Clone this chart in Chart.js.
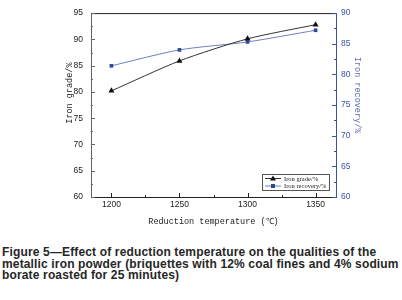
<!DOCTYPE html>
<html>
<head>
<meta charset="utf-8">
<script src="https://cdn.jsdelivr.net/npm/chart.js@4.4.0/dist/chart.umd.min.js"></script>
<style>
  html, body { margin: 0; padding: 0; background: #fff; }
  body { width: 402px; height: 300px; overflow: hidden; position: relative; }
  #wrap { position: absolute; left: 0; top: 0; width: 402px; height: 232px; }
  #caption {
    position: absolute; left: 2px; top: 247px;
    font-family: "Liberation Sans", Arial, sans-serif;
    font-weight: bold; font-size: 12px; line-height: 11.7px; color: #262626;
    letter-spacing: 0.15px; white-space: nowrap;
  }
</style>
</head>
<body>
<div id="wrap"><canvas id="chart"></canvas></div>
<div id="caption">Figure 5—Effect of reduction temperature on the qualities of the<br>metallic iron powder (briquettes with 12% coal fines and 4% sodium<br>borate roasted for 25 minutes)</div>
<script>
const temps = [1200, 1250, 1300, 1350];
const ironGrade = [80.2, 85.9, 90.1, 92.8];
const ironRecovery = [81.4, 84.0, 85.3, 87.2];
const xTicks = [1200, 1250, 1300, 1350];
const gradeTicks = [60, 65, 70, 75, 80, 85, 90, 95];
const recoveryTicks = [60, 65, 70, 75, 80, 85, 90];
const xTitle = 'Reduction temperature (℃)';
const gradeTitle = 'Iron grade/%';
const recoveryTitle = 'Iron recovery/%';

const BLUE = '#3a52a3';
const MONO = '"Liberation Mono", "DejaVu Sans Mono", monospace';
const TICKFONT = { family: '"Liberation Sans", Arial, sans-serif', size: 8.5 };

// inward ticks, frame, axis titles and legend, all placed from the scales
const framePlugin = {
    id: 'frame',
    afterDraw(chart) {
        const ctx = chart.ctx;
        const a = chart.chartArea;
        const { x, y, y1 } = chart.scales;
        ctx.save();
        ctx.lineWidth = 1;

        // top + bottom
        ctx.strokeStyle = '#222';
        ctx.beginPath(); ctx.moveTo(a.left, a.top + 0.5); ctx.lineTo(a.right, a.top + 0.5); ctx.stroke();
        ctx.beginPath(); ctx.moveTo(a.left, a.bottom + 0.5); ctx.lineTo(a.right, a.bottom + 0.5); ctx.stroke();
        xTicks.forEach((v, i) => {
            const px = Math.round(x.getPixelForValue(v)) + 0.5;
            ctx.beginPath(); ctx.moveTo(px, a.bottom); ctx.lineTo(px, a.bottom - 4); ctx.stroke();
            if (i < xTicks.length - 1) {
                const mx = Math.round(x.getPixelForValue((v + xTicks[i + 1]) / 2)) + 0.5;
                ctx.beginPath(); ctx.moveTo(mx, a.bottom); ctx.lineTo(mx, a.bottom - 2); ctx.stroke();
            }
        });

        // left axis
        ctx.strokeStyle = '#666';
        ctx.beginPath(); ctx.moveTo(a.left + 0.5, a.top); ctx.lineTo(a.left + 0.5, a.bottom); ctx.stroke();
        gradeTicks.forEach((v, i) => {
            const py = Math.round(y.getPixelForValue(v)) + 0.5;
            ctx.beginPath(); ctx.moveTo(a.left, py); ctx.lineTo(a.left + 4, py); ctx.stroke();
            if (i < gradeTicks.length - 1) {
                const my = Math.round(y.getPixelForValue((v + gradeTicks[i + 1]) / 2)) + 0.5;
                ctx.beginPath(); ctx.moveTo(a.left, my); ctx.lineTo(a.left + 2, my); ctx.stroke();
            }
        });

        // right axis
        ctx.strokeStyle = BLUE;
        ctx.beginPath(); ctx.moveTo(a.right + 0.5, a.top); ctx.lineTo(a.right + 0.5, a.bottom + 1); ctx.stroke();
        recoveryTicks.forEach((v, i) => {
            const py = Math.round(y1.getPixelForValue(v)) + 0.5;
            ctx.beginPath(); ctx.moveTo(a.right, py); ctx.lineTo(a.right - 4, py); ctx.stroke();
            if (i < recoveryTicks.length - 1) {
                const my = Math.round(y1.getPixelForValue((v + recoveryTicks[i + 1]) / 2)) + 0.5;
                ctx.beginPath(); ctx.moveTo(a.right, my); ctx.lineTo(a.right - 2, my); ctx.stroke();
            }
        });

        // axis titles
        ctx.font = '8.5px ' + MONO;
        ctx.textAlign = 'center';
        ctx.textBaseline = 'middle';
        ctx.fillStyle = '#222';
        ctx.fillText(xTitle, (a.left + a.right) / 2, a.bottom + 25);
        ctx.save();
        ctx.translate(a.left - 21, a.top + 80);
        ctx.rotate(-Math.PI / 2);
        ctx.fillText(gradeTitle, 0, 0);
        ctx.restore();
        ctx.save();
        ctx.fillStyle = '#6072b4';
        ctx.translate(a.right + 21, a.top + 82);
        ctx.rotate(Math.PI / 2);
        ctx.fillText(recoveryTitle, 0, 0);
        ctx.restore();

        // legend box in the lower right corner
        const bx = 262, by = 174, bw = 67, bh = 16;
        ctx.fillStyle = '#fff';
        ctx.fillRect(bx, by, bw, bh);
        ctx.strokeStyle = '#555';
        ctx.strokeRect(bx + 0.5, by + 0.5, bw, bh);
        ctx.font = '6.5px "Liberation Serif", serif';
        ctx.textAlign = 'left';
        chart.data.datasets.forEach((ds, i) => {
            const ly = by + 4.5 + i * 7.5;
            ctx.strokeStyle = ds.borderColor;
            ctx.beginPath(); ctx.moveTo(bx + 3, ly); ctx.lineTo(bx + 19, ly); ctx.stroke();
            ctx.fillStyle = ds.pointBackgroundColor;
            if (ds.pointStyle === 'triangle') {
                ctx.beginPath(); ctx.moveTo(bx + 11, ly - 3); ctx.lineTo(bx + 14, ly + 2); ctx.lineTo(bx + 8, ly + 2); ctx.closePath(); ctx.fill();
            } else {
                ctx.fillRect(bx + 9, ly - 2, 4, 4);
            }
            ctx.fillStyle = '#222';
            ctx.fillText(ds.label, bx + 22, ly + 0.5);
        });
        ctx.restore();
    }
};

new Chart(document.getElementById('chart'), {
    type: 'line',
    data: {
        datasets: [
            {
                label: gradeTitle,
                data: temps.map((t, i) => ({ x: t, y: ironGrade[i] })),
                yAxisID: 'y',
                borderColor: '#333',
                borderWidth: 1,
                pointStyle: 'triangle',
                pointRadius: 3.5,
                pointBackgroundColor: '#111',
                pointBorderColor: '#111',
                pointBorderWidth: 0,
                tension: 0.25
            },
            {
                label: recoveryTitle,
                data: temps.map((t, i) => ({ x: t, y: ironRecovery[i] })),
                yAxisID: 'y1',
                borderColor: '#6d80c4',
                borderWidth: 1,
                pointStyle: 'rect',
                pointRadius: 2.6,
                pointBackgroundColor: '#2d4a9c',
                pointBorderColor: '#2d4a9c',
                pointBorderWidth: 0,
                tension: 0.25
            }
        ]
    },
    options: {
        responsive: true, maintainAspectRatio: false, animation: false,
        layout: { padding: { top: 13, left: 0, right: 0, bottom: 0 } },
        plugins: { legend: { display: false }, tooltip: { enabled: false } },
        scales: {
            x: {
                type: 'linear', min: 1185, max: 1365,
                afterBuildTicks: s => { s.ticks = xTicks.map(v => ({ value: v })); },
                afterFit: s => { s.height = 35; },
                grid: { display: false, drawTicks: false }, border: { display: false },
                ticks: { color: '#222', font: TICKFONT, padding: 3, maxRotation: 0, callback: v => String(v) }
            },
            y: {
                position: 'left', min: 60, max: 95,
                afterBuildTicks: s => { s.ticks = gradeTicks.map(v => ({ value: v })); },
                afterFit: s => { s.width = 91; },
                grid: { display: false, drawTicks: false }, border: { display: false },
                ticks: { color: '#222', font: TICKFONT, padding: 8 }
            },
            y1: {
                position: 'right', min: 60, max: 90,
                afterBuildTicks: s => { s.ticks = recoveryTicks.map(v => ({ value: v })); },
                afterFit: s => { s.width = 66; },
                grid: { display: false, drawTicks: false }, border: { display: false },
                ticks: { color: BLUE, font: TICKFONT, padding: 5 }
            }
        }
    },
    plugins: [framePlugin]
});
</script>
</body>
</html>
